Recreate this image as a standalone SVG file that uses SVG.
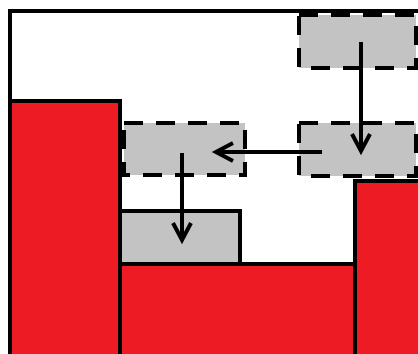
<svg xmlns="http://www.w3.org/2000/svg" width="418" height="354" viewBox="0 0 418 354">
<style>
.blk{fill:#ED1C24;stroke:#000;stroke-width:4}
.solid{fill:#C3C3C3;stroke:#000;stroke-width:4}
.dash{fill:#C3C3C3;stroke:#000;stroke-width:4;stroke-dasharray:19 13}
.conn{fill:none;stroke:#000;stroke-width:4}
</style>
<defs>
<marker id="ah" markerUnits="userSpaceOnUse" markerWidth="30" markerHeight="30" viewBox="-20 -15 30 30" refX="0" refY="0" orient="auto" overflow="visible">
<path d="M-17,-9 L0,0 L-17,9" fill="none" stroke="#000" stroke-width="4" stroke-linejoin="miter"/>
</marker>
</defs>
<rect width="418" height="354" fill="#fff"/>
<g id="frame"><rect x="10" y="11" width="420" height="360" fill="#fff" stroke="#000" stroke-width="4"/></g>
<g id="left-block"><rect class="blk" x="10" y="101" width="110" height="270"/></g>
<g id="middle-block"><rect class="blk" x="120" y="264" width="235" height="110"/></g>
<g id="right-block"><rect class="blk" x="355" y="181" width="80" height="190"/></g>
<g id="placed-box"><rect class="solid" x="120" y="211" width="120" height="53"/></g>
<g id="box-top-right"><rect class="dash" x="299" y="15" width="117" height="53"/></g>
<g id="box-mid-right"><rect class="dash" x="299" y="123" width="117" height="53"/></g>
<g id="box-mid-left"><rect class="dash" x="124" y="123" width="121" height="52"/></g>
<g id="connectors">
<line class="conn" x1="361" y1="42" x2="361" y2="151" marker-end="url(#ah)"/>
<line class="conn" x1="322" y1="152" x2="216" y2="152" marker-end="url(#ah)"/>
<line class="conn" x1="182" y1="153" x2="182" y2="240" marker-end="url(#ah)"/>
</g>
</svg>
